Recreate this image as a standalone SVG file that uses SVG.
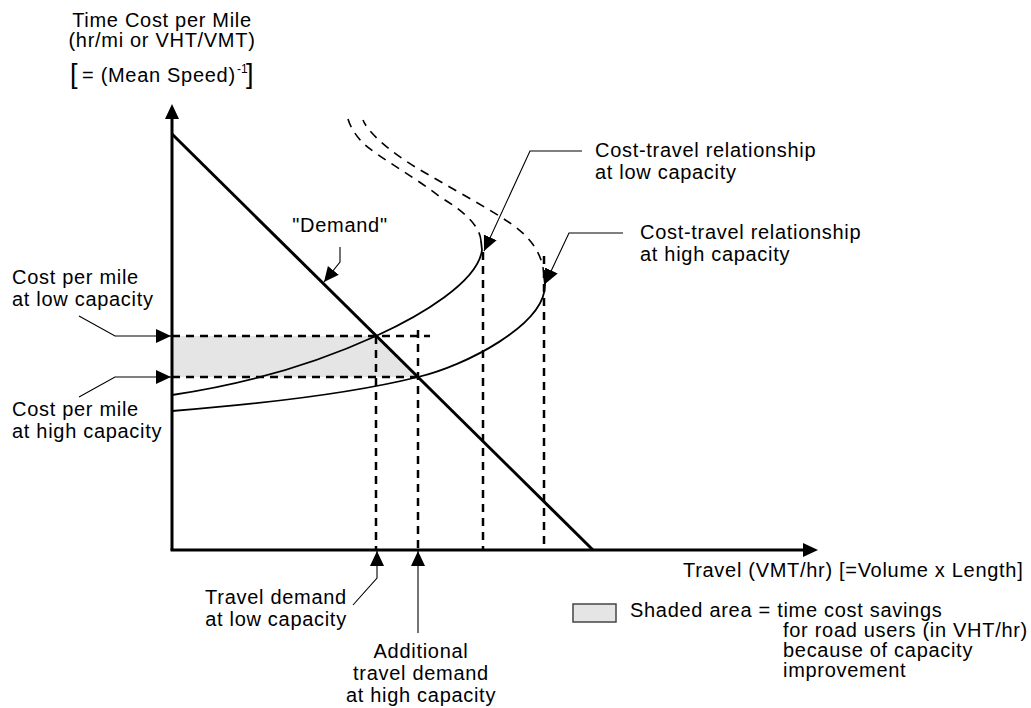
<svg xmlns="http://www.w3.org/2000/svg" width="1031" height="708" viewBox="0 0 1031 708">
<style>
text{font-family:"Liberation Sans",Arial,Helvetica,sans-serif;font-size:20px;letter-spacing:0.7px;fill:#000}
.mid{text-anchor:middle}
.axis{stroke:#000;stroke-width:3;fill:none}
.demand{stroke:#000;stroke-width:3;fill:none}
.curve{stroke:#000;stroke-width:1.8;fill:none}
.curved{stroke:#000;stroke-width:1.6;fill:none;stroke-dasharray:9 7}
.guide{stroke:#000;stroke-width:2.5;fill:none;stroke-dasharray:8 6}
.leader{stroke:#000;stroke-width:1.1;fill:none}
.shade{fill:#e5e5e5;stroke:none}
</style>
<defs>
<marker id="ah" markerUnits="userSpaceOnUse" markerWidth="16" markerHeight="16" refX="15" refY="7" orient="auto">
<path d="M0,0 L15,7 L0,14 z" fill="#000"/>
</marker>
<marker id="axh" markerUnits="userSpaceOnUse" markerWidth="16" markerHeight="16" refX="0" refY="7" orient="auto">
<path d="M0,0 L15,7 L0,14 z" fill="#000"/>
</marker>
</defs>
<rect width="1031" height="708" fill="#fff"/>

<g id="shaded-area">
<polygon class="shade" points="172,336 376,336 418,377 172,377"/>
</g>

<g id="guides">
<path class="guide" d="M172,336 H430"/>
<path class="guide" d="M172,377 H418"/>
<path class="guide" d="M376,336 V550"/>
<path class="guide" d="M418,330 V550"/>
<path class="guide" d="M483,252 V550"/>
<path class="guide" d="M544,256 V550"/>
</g>

<g id="curve-low">
<path class="curve" d="M172,395 C240,385 308,367 376,336 C420,316 478,282 482,250 L481,241"/>
<path class="curved" d="M481,241 C480,225 462,210 440,197 C415,177 378,157 363,143 C355,135 350,126 348,119"/>
</g>

<g id="curve-high">
<path class="curve" d="M172,411 C260,404 350,394 418,377 C465,366 545,325 545,285 L544,276"/>
<path class="curved" d="M544,276 C543,258 535,240 510,223 C488,208 442,183 417,168 C392,153 368,133 363,120"/>
</g>

<g id="demand">
<path class="demand" d="M172,134 L593,550"/>
</g>

<g id="axes">
<path class="axis" d="M172,550 V119" marker-end="url(#axh)"/>
<path class="axis" d="M170.5,550 H803" marker-end="url(#axh)"/>
</g>

<g id="connectors">
<path class="leader" d="M582,151 H530 L484,251" marker-end="url(#ah)"/>
<path class="leader" d="M623,233 H569 L545,284" marker-end="url(#ah)"/>
<path class="leader" d="M340,247 V262 L324,282" marker-end="url(#ah)"/>
<path class="leader" d="M79,316 L115,336 H171" marker-end="url(#ah)"/>
<path class="leader" d="M79,397 L115,377 H171" marker-end="url(#ah)"/>
<path class="leader" d="M353,605 L377,578 V551" marker-end="url(#ah)"/>
<path class="leader" d="M418,633 V551" marker-end="url(#ah)"/>
</g>

<g id="y-axis-label">
<text class="mid" x="162" y="27">Time Cost per Mile</text>
<text class="mid" x="162" y="47">(hr/mi or VHT/VMT)</text>
<text x="70" y="83" style="font-size:27px;letter-spacing:0">[</text>
<text x="82" y="82">= (Mean Speed)</text>
<text x="237" y="73" style="font-size:12px;letter-spacing:0">-1</text>
<text x="246" y="83" style="font-size:27px;letter-spacing:0">]</text>
</g>

<g id="label-demand">
<text class="mid" x="340" y="232">"Demand"</text>
</g>

<g id="label-cost-travel-low">
<text x="595" y="157">Cost-travel relationship</text>
<text x="595" y="179">at low capacity</text>
</g>

<g id="label-cost-travel-high">
<text x="640" y="239">Cost-travel relationship</text>
<text x="640" y="261">at high capacity</text>
</g>

<g id="label-cost-low">
<text x="12" y="284">Cost per mile</text>
<text x="12" y="306">at low capacity</text>
</g>

<g id="label-cost-high">
<text x="12" y="416">Cost per mile</text>
<text x="12" y="438">at high capacity</text>
</g>

<g id="label-demand-low">
<text class="mid" x="276" y="604">Travel demand</text>
<text class="mid" x="276" y="626">at low capacity</text>
</g>

<g id="label-demand-high">
<text class="mid" x="421" y="658">Additional</text>
<text class="mid" x="421" y="680">travel demand</text>
<text class="mid" x="421" y="702">at high capacity</text>
</g>

<g id="x-axis-label">
<text x="683" y="577">Travel (VMT/hr) [=Volume x Length]</text>
</g>

<g id="legend">
<rect x="573" y="604" width="43" height="18" fill="#e5e5e5" stroke="#444" stroke-width="1.5"/>
<text x="630" y="617">Shaded area = time cost savings</text>
<text x="783" y="637">for road users (in VHT/hr)</text>
<text x="783" y="657">because of capacity</text>
<text x="783" y="677">improvement</text>
</g>
</svg>
